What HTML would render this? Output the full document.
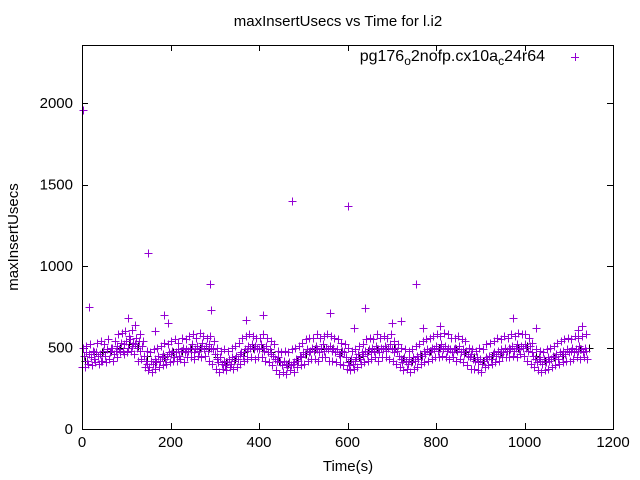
<!DOCTYPE html>
<html><head><meta charset="utf-8"><style>
body{margin:0;background:#fff;}
svg{display:block;font-family:"Liberation Sans",sans-serif;}
</style></head><body>
<svg id="chart" width="640" height="480" viewBox="0 0 640 480">
<rect width="640" height="480" fill="#fff"/>
<text x="338" y="26" font-size="15" text-anchor="middle">maxInsertUsecs vs Time for l.i2</text>
<text transform="translate(18,237) rotate(-90)" font-size="15" text-anchor="middle">maxInsertUsecs</text>
<text x="348" y="471" font-size="15" text-anchor="middle">Time(s)</text>
<g id="axes"></g>
<g id="marks" shape-rendering="crispEdges"></g>
<rect x="82.5" y="45.5" width="531" height="384" fill="none" stroke="#000" stroke-width="1" shape-rendering="crispEdges"/>
<g>
<text x="545" y="61" font-size="16" text-anchor="end">pg176<tspan font-size="12" dy="4">o</tspan><tspan dy="-4">2nofp.cx10a</tspan><tspan font-size="12" dy="4">c</tspan><tspan dy="-4">24r64</tspan></text>
<path d="M571 57.5h8M575.5 53v8" stroke="#9400d3" stroke-width="1" shape-rendering="crispEdges"/>
</g>
</svg>
<script>
const xTicks=[0,200,400,600,800,1000,1200];
const yTicks=[0,500,1000,1500,2000];
const purpleValues=[380,450,470,420,460,440,480,430,470,450,
460,420,480,450,490,430,470,500,460,480,
510,490,530,480,520,540,500,550,510,530,
520,500,540,480,510,450,420,400,380,420,
400,430,410,450,420,440,460,430,450,470,
460,480,440,470,490,450,480,500,470,490,
480,500,520,470,490,510,480,500,530,490,
510,480,520,500,490,460,430,410,440,400,
420,390,410,430,400,440,420,450,430,460,
470,450,490,480,510,500,520,490,510,500,
490,520,500,480,510,470,490,460,450,430,
420,440,410,390,420,400,380,410,390,400,
410,430,420,450,440,470,460,490,470,480,
500,480,510,490,470,500,520,480,500,490,
510,480,500,470,490,460,450,480,470,440,
410,390,430,400,420,440,460,430,470,450,
480,460,490,470,500,480,510,490,470,500,
490,510,480,500,520,490,470,500,480,450,
430,410,440,420,400,430,410,440,420,450,
430,460,450,480,460,490,470,480,500,490,
510,480,500,520,490,510,480,500,490,470,
490,500,480,510,470,490,460,480,450,440,
460,430,420,440,410,430,400,420,440,430,
450,430,460,470,450,480,460,490,470,500,
480,500,490,510,480,500,520,490,510,500,
520,500,480,510,470,450,430,410,440,420,
400,430,410,440,420,430,450,440,460,430,
470,450,480,460,490,470,480,500,470,490,
480,510,490,470,500,480];
const purpleStep=4;
const spreadValues=[500,380,510,400,520,390,470,410,530,400,
540,420,520,410,550,430,500,420,540,440,
580,470,590,460,600,470,570,480,610,460,
560,420,580,430,540,380,480,360,470,350,
490,370,500,380,510,390,530,400,520,410,
540,420,550,420,530,430,560,410,550,440,
570,440,580,430,560,450,590,440,570,450,
560,420,570,400,540,370,500,350,480,370,
490,360,480,380,500,370,510,380,530,400,
560,420,570,430,580,440,570,430,560,440,
560,440,580,420,560,410,540,390,520,360,
480,340,470,350,480,340,470,360,490,350,
500,380,510,390,530,400,550,420,560,430,
560,430,580,420,560,440,570,440,580,420,
570,420,560,410,550,400,530,390,520,370,
500,360,480,370,490,380,510,400,520,410,
550,420,560,430,550,440,580,420,560,440,
570,440,560,430,580,420,540,400,520,380,
500,360,490,370,480,350,490,370,510,380,
520,400,540,410,550,420,560,430,570,440,
580,440,570,450,590,440,580,430,560,440,
560,420,570,430,550,410,540,390,500,370,
490,370,480,360,500,350,490,380,520,390,
530,400,540,410,560,420,550,440,570,440,
560,440,580,450,570,440,590,460,580,450,
580,420,560,400,530,380,490,360,480,350,
470,360,490,370,500,380,510,390,530,400,
540,410,550,420,560,420,550,430,570,440,
560,430,570,440,580,430];
const spreadStep=4;
const blackValues=[420,460,470,480,500,520,510,450,420,440,470,480,490,500,500,440,410,430,470,500,500,470,420,400,420,460,490,490,490,470,420,440,480,490,490,490,430,420,450,480,500,500,490,470,440,420,450,470,490,500,510,450,420,440,460,480,490,500];
const blackStep=20;
const outlierTimes=[2,15,105,120,150,165,185,195,290,292,370,410,475,560,600,615,640,700,720,755,770,810,975,1025,1120,1130];
const outlierValues=[1960,750,680,640,1080,600,700,650,890,730,670,700,1400,710,1370,620,740,650,660,890,620,630,680,620,610,630];

const X0=82,X1=613,Y0=429,Y1=45,XMAX=1200,YMAX=2356;
const sx=v=>X0+(X1-X0)*v/XMAX;
const sy=v=>Y0-(Y0-Y1)*v/YMAX;
const NS="http://www.w3.org/2000/svg";
const axes=document.getElementById('axes');
const marks=document.getElementById('marks');
xTicks.forEach(t=>{
  const x=Math.round(sx(t))+0.5;
  const p=document.createElementNS(NS,'path');
  p.setAttribute('d',`M${x} ${Y0}v-6M${x} ${Y1}v6`);
  p.setAttribute('stroke','#000');
  p.setAttribute('shape-rendering','crispEdges');
  
  
  axes.appendChild(p);
  const tx=document.createElementNS(NS,'text');
  tx.setAttribute('x',sx(t));tx.setAttribute('y',Y0+18);
  tx.setAttribute('font-size','15');tx.setAttribute('text-anchor','middle');
  tx.textContent=t;
  
  
  axes.appendChild(tx);
});
yTicks.forEach(t=>{
  const y=Math.round(sy(t))+0.5;
  const p=document.createElementNS(NS,'path');
  p.setAttribute('d',`M${X0} ${y}h6M${X1} ${y}h-6`);
  p.setAttribute('stroke','#000');
  p.setAttribute('shape-rendering','crispEdges');
  
  
  axes.appendChild(p);
  const tx=document.createElementNS(NS,'text');
  tx.setAttribute('x',X0-9);tx.setAttribute('y',sy(t)+5);
  tx.setAttribute('font-size','15');tx.setAttribute('text-anchor','end');
  tx.textContent=t;
  
  
  axes.appendChild(tx);
});
function plus(t,v,color,name){
  const x=Math.round(sx(t))+0.5,y=Math.round(sy(v))+0.5;
  const p=document.createElementNS(NS,'path');
  p.setAttribute('d',`M${x-4} ${y}h8M${x} ${y-4}v8`);
  p.setAttribute('stroke',color);
  p.setAttribute('fill','none');
  
  
  marks.appendChild(p);
}
blackValues.forEach((v,i)=>plus(i*blackStep+6,v,'#000','black-point'));
purpleValues.forEach((v,i)=>plus(i*purpleStep,v,'#9400d3','data-point'));
spreadValues.forEach((v,i)=>plus(i*spreadStep+2,v,'#9400d3','data-point'));
outlierTimes.forEach((t,i)=>plus(t,outlierValues[i],'#9400d3','outlier-point'));
</script>
</body></html>
